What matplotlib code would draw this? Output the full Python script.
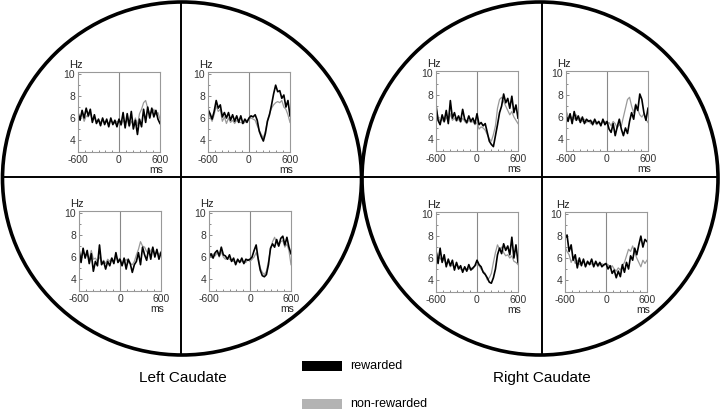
import numpy as np
import matplotlib
matplotlib.use("Agg")
import matplotlib.pyplot as plt
from matplotlib.patches import Ellipse, Rectangle

plt.rcParams['font.family'] = ['Liberation Sans', 'DejaVu Sans']
plt.rcParams['axes.unicode_minus'] = False

# time bins (ms), -600..600 every 30 ms
t = np.arange(-600, 601, 30)

# left caudate, upper-left cell
lt_a_rew = [6.5, 5.8, 6.7, 6.0, 6.9, 6.2, 6.8, 5.6, 6.3, 5.5, 5.9, 5.3, 6.0, 5.4, 5.9, 5.2, 6.0, 5.4, 5.8, 5.2, 5.9,
            5.4, 6.5, 5.1, 6.4, 5.3, 6.6, 5.0, 5.8, 4.5, 5.9, 5.2, 6.8, 5.6, 7.0, 6.0, 6.9, 6.1, 6.7, 5.9, 5.5]
lt_a_non = [6.3, 6.0, 6.4, 5.7, 6.2, 6.1, 6.5, 5.8, 6.0, 5.7, 5.8, 5.6, 5.9, 5.6, 5.7, 5.5, 5.8, 5.6, 5.5, 5.7, 5.6,
            5.3, 5.8, 5.5, 5.9, 5.2, 5.7, 5.4, 6.0, 5.3, 6.4, 6.8, 7.4, 7.6, 6.9, 6.4, 6.5, 6.8, 6.3, 6.5, 5.9]
# left caudate, upper-right cell
lt_b_rew = [6.8, 6.4, 5.9, 6.6, 7.6, 6.9, 7.2, 6.1, 6.5, 6.0, 6.5, 5.8, 6.3, 5.7, 6.2, 5.6, 6.2, 5.5, 5.9, 5.6, 6.0,
            6.2, 6.1, 6.3, 5.8, 4.8, 4.3, 3.9, 4.6, 5.7, 6.3, 7.2, 8.2, 9.0, 8.4, 8.5, 7.8, 8.1, 7.0, 7.6, 6.2]
lt_b_non = [6.7, 6.1, 5.7, 6.3, 7.1, 6.6, 6.8, 5.7, 6.1, 5.5, 6.0, 5.6, 5.8, 5.5, 5.8, 5.6, 5.6, 5.5, 5.6, 5.8, 5.9,
            6.0, 5.9, 5.8, 5.3, 4.9, 4.5, 4.2, 4.8, 5.8, 6.4, 6.9, 7.2, 7.4, 7.5, 7.4, 7.6, 7.0, 6.8, 6.3, 5.6]
# left caudate, lower-left cell
lt_c_rew = [6.7, 5.5, 6.8, 5.9, 6.6, 5.4, 6.3, 4.7, 5.6, 5.2, 7.1, 5.3, 5.6, 4.9, 5.6, 5.2, 5.9, 5.4, 6.4, 5.5, 5.8,
            5.2, 5.9, 4.9, 5.8, 5.4, 4.6, 5.3, 5.6, 6.4, 5.3, 6.9, 6.2, 5.7, 6.8, 5.8, 6.9, 6.0, 6.7, 5.8, 6.4]
lt_c_non = [6.3, 6.0, 6.5, 6.1, 6.2, 5.8, 6.6, 5.8, 5.9, 5.6, 6.0, 5.5, 5.7, 5.4, 5.8, 5.6, 5.9, 5.5, 6.0, 5.7, 5.9,
            5.3, 5.6, 5.8, 5.5, 5.4, 5.3, 5.6, 6.2, 6.7, 7.4, 7.0, 6.9, 6.5, 6.3, 6.6, 6.8, 6.2, 6.5, 6.2, 6.5]
# left caudate, lower-right cell
lt_d_rew = [6.0, 6.3, 5.9, 6.4, 6.6, 6.1, 6.9, 6.2, 6.1, 5.8, 6.2, 5.6, 5.9, 5.3, 5.8, 5.5, 5.9, 5.4, 5.8, 5.7, 5.8,
            6.0, 6.6, 7.1, 5.8, 4.8, 4.3, 4.2, 4.4, 5.3, 6.8, 7.2, 6.9, 7.6, 7.0, 7.7, 7.9, 7.1, 7.8, 6.9, 6.3]
lt_d_non = [6.2, 6.0, 6.3, 6.1, 6.4, 6.0, 6.5, 6.0, 5.8, 5.9, 5.8, 5.7, 5.6, 5.5, 5.7, 5.6, 5.6, 5.5, 5.5, 5.8, 5.6,
            5.8, 6.0, 6.4, 5.9, 5.0, 4.6, 4.4, 4.7, 5.6, 6.7, 7.4, 7.8, 7.3, 7.0, 7.4, 7.5, 6.9, 7.2, 6.6, 5.3]
# right caudate, upper-left cell
rt_a_rew = [7.1, 5.7, 5.3, 6.2, 5.6, 6.6, 5.4, 7.5, 5.9, 6.4, 5.7, 6.1, 5.6, 6.7, 5.8, 5.5, 6.1, 5.6, 5.9, 5.4, 6.3,
            5.3, 5.5, 5.2, 5.4, 4.6, 3.8, 3.5, 3.3, 4.3, 5.3, 6.4, 7.0, 8.1, 7.3, 7.7, 6.8, 7.9, 6.4, 7.1, 5.9]
rt_a_non = [6.8, 6.0, 5.6, 5.8, 5.5, 6.0, 5.6, 6.3, 5.7, 5.9, 5.6, 5.8, 5.5, 5.9, 5.6, 5.4, 5.7, 5.5, 5.6, 5.3, 5.5,
            4.9, 5.1, 5.0, 4.8, 4.4, 4.0, 3.8, 4.4, 5.2, 6.8, 7.6, 7.8, 7.4, 7.0, 6.6, 6.2, 6.5, 6.0, 5.7, 5.4]
# right caudate, upper-right cell
rt_b_rew = [6.2, 5.6, 6.3, 5.4, 6.5, 5.7, 6.1, 5.5, 6.0, 5.4, 5.8, 5.6, 5.7, 5.3, 5.8, 5.4, 5.6, 5.2, 5.8, 5.3, 5.6,
            4.9, 4.6, 5.4, 4.3, 5.1, 5.8, 4.9, 4.3, 5.0, 4.5, 5.6, 6.4, 5.8, 7.1, 6.6, 8.1, 7.6, 6.4, 5.7, 6.8]
rt_b_non = [6.6, 6.1, 5.9, 6.0, 5.8, 6.2, 5.7, 5.9, 5.6, 5.8, 5.5, 5.7, 5.4, 5.6, 5.5, 5.3, 5.5, 5.4, 5.5, 5.6, 5.4,
            5.5, 5.2, 5.6, 5.4, 5.0, 5.3, 5.2, 6.0, 6.8, 7.6, 7.8, 7.0, 6.4, 7.2, 6.7, 6.2, 6.0, 6.3, 5.8, 5.5]
# right caudate, lower-left cell
rt_c_rew = [6.7, 5.5, 6.9, 5.6, 6.3, 5.2, 5.9, 5.3, 5.8, 4.9, 5.6, 5.0, 5.3, 4.7, 5.2, 4.8, 5.4, 4.9, 5.1, 5.3, 5.8,
            5.4, 5.2, 4.7, 4.5, 4.2, 3.8, 3.7, 4.2, 5.0, 6.3, 6.9, 6.4, 7.3, 6.7, 7.1, 6.3, 7.9, 6.0, 7.2, 5.6]
rt_c_non = [6.6, 6.1, 6.0, 5.7, 5.9, 5.4, 5.7, 5.2, 5.4, 5.1, 5.5, 5.2, 5.0, 4.9, 5.1, 4.9, 5.0, 5.1, 5.0, 5.3, 5.4,
            5.3, 5.0, 4.8, 4.6, 4.0, 4.2, 4.6, 5.6, 6.5, 7.2, 6.8, 7.0, 6.5, 6.2, 6.3, 6.0, 6.2, 5.7, 5.6, 5.4]
# right caudate, lower-right cell
rt_d_rew = [7.8, 8.1, 6.6, 7.2, 5.8, 6.3, 5.1, 6.0, 5.3, 5.9, 5.2, 5.7, 5.4, 5.9, 5.2, 5.7, 5.3, 5.6, 5.2, 5.4, 5.5,
            5.0, 5.3, 4.6, 4.9, 4.2, 4.8, 4.3, 5.4, 4.7, 5.6, 5.0, 6.2, 5.8, 6.9, 6.3, 7.2, 8.0, 7.0, 7.7, 7.5]
rt_d_non = [7.0, 6.6, 6.3, 5.6, 6.0, 5.5, 5.8, 5.4, 5.6, 5.7, 5.3, 5.6, 5.4, 5.5, 5.3, 5.6, 5.2, 5.4, 5.5, 5.3, 5.5,
            5.4, 5.1, 5.3, 5.0, 4.8, 5.1, 4.9, 5.3, 5.6, 6.2, 6.8, 6.6, 7.1, 6.5, 6.0, 5.6, 5.2, 5.8, 5.5, 5.8]

region_labels = ["Left Caudate", "Right Caudate"]
legend_labels = ["rewarded", "non-rewarded"]
xtick_vals = [-600, 0, 600]
ytick_vals = [4, 6, 8, 10]

W, H = 720, 411
fig = plt.figure(figsize=(W / 100, H / 100), dpi=100)

# background layer in pixel coordinates (y downwards)
bg = fig.add_axes([0, 0, 1, 1])
bg.set_xlim(0, W)
bg.set_ylim(H, 0)
bg.axis('off')

for cx, w in [(182, 359), (540, 356)]:
    bg.add_patch(Ellipse((cx, 178.5), w, 353, fill=False, lw=2.6, ec='black'))
bg.plot([2.5, 361.5], [177, 177], color='black', lw=1.4)
bg.plot([181, 181], [2, 355], color='black', lw=1.4)
bg.plot([362.5, 717.5], [177, 177], color='black', lw=1.4)
bg.plot([542, 542], [2, 355], color='black', lw=1.4)

bg.text(183, 378, region_labels[0], ha='center', va='center', fontsize=11)
bg.text(542, 378, region_labels[1], ha='center', va='center', fontsize=11)

bg.add_patch(Rectangle((302, 361), 40, 10, color='black', lw=0))
bg.add_patch(Rectangle((302, 399), 40, 10, color='#b3b3b3', lw=0))
bg.text(350, 366, legend_labels[0], ha='left', va='center', fontsize=9)
bg.text(350, 404, legend_labels[1], ha='left', va='center', fontsize=9)

# panel boxes in pixels: left, top
panels = [
    (78, 72, lt_a_rew, lt_a_non),
    (208, 72, lt_b_rew, lt_b_non),
    (79, 211, lt_c_rew, lt_c_non),
    (209, 211, lt_d_rew, lt_d_non),
    (436, 71, rt_a_rew, rt_a_non),
    (566, 71, rt_b_rew, rt_b_non),
    (436, 212, rt_c_rew, rt_c_non),
    (565, 212, rt_d_rew, rt_d_non),
]
pw, ph = 82, 80

for px, py, rew, non in panels:
    ax = fig.add_axes([px / W, 1 - (py + ph) / H, pw / W, ph / H])
    ax.axvline(0, color='#888888', lw=0.8)
    ax.plot(t, non, color='#9a9a9a', lw=0.9)
    ax.plot(t, rew, color='black', lw=1.2)
    ax.set_xlim(-600, 600)
    ax.set_ylim(2.9, 10.2)
    ax.set_xticks(xtick_vals)
    ax.set_xticks(np.arange(-600, 601, 100), minor=True)
    ax.set_yticks(ytick_vals)
    ax.set_yticks([5, 7, 9], minor=True)
    ax.tick_params(which='both', direction='in', length=2, width=0.6, color='#777777',
                   labelsize=7.5, pad=2, labelcolor='#333333')
    ax.tick_params(which='minor', length=1.5)
    for s in ax.spines.values():
        s.set_color('#999999')
        s.set_linewidth(0.8)
    ax.set_facecolor('none')
    ax.text(-0.02, 1.03, "Hz", transform=ax.transAxes, ha='center', va='bottom', fontsize=8, color='#222222')
    ax.text(1.04, -0.16, "ms", transform=ax.transAxes, ha='right', va='top', fontsize=7.5, color='#222222')

fig.savefig("out.png", dpi=100)
